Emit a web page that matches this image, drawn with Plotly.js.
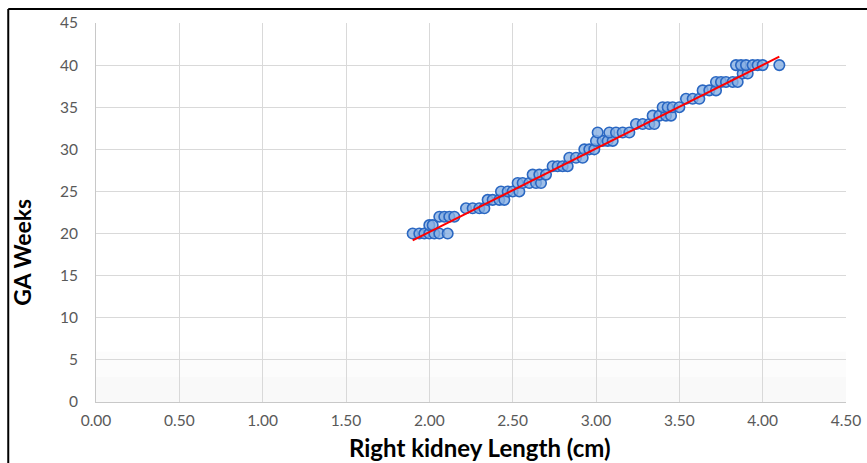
<!DOCTYPE html>
<html>
<head>
<meta charset="utf-8">
<script src="https://cdn.plot.ly/plotly-3.0.1.min.js"></script>
<style>html,body{margin:0;padding:0;background:#fff;}#chart{width:867px;height:463px;}</style>
</head>
<body>
<div id="chart"></div>
<script>
// Right kidney length (cm) grouped by gestational age week
const weeks = [20,21,22,23,24,25,26,27,28,29,30,31,32,33,34,35,36,37,38,39,40];
const lengthsByWeek = [
  [1.90, 1.94, 1.97, 2.00, 2.03, 2.06, 2.11],
  [2.00, 2.02],
  [2.06, 2.09, 2.12, 2.15],
  [2.22, 2.26, 2.30, 2.33],
  [2.35, 2.38, 2.42, 2.45],
  [2.43, 2.47, 2.50, 2.54],
  [2.53, 2.56, 2.60, 2.64, 2.67],
  [2.62, 2.66, 2.70],
  [2.74, 2.77, 2.80, 2.83],
  [2.84, 2.88, 2.92],
  [2.93, 2.96, 2.99],
  [3.00, 3.04, 3.07, 3.10],
  [3.01, 3.08, 3.12, 3.16, 3.20],
  [3.24, 3.28, 3.32, 3.35],
  [3.34, 3.38, 3.42, 3.45],
  [3.40, 3.43, 3.46, 3.50],
  [3.54, 3.58, 3.62],
  [3.64, 3.68, 3.72],
  [3.72, 3.75, 3.78, 3.82, 3.85],
  [3.88, 3.91],
  [3.84, 3.87, 3.90, 3.94, 3.97, 4.00, 4.10]
];
// Linear trendline endpoints
const trendX = [1.90, 4.10];
const trendY = [19.2, 41.0];
const xTickVals = [0, 0.5, 1, 1.5, 2, 2.5, 3, 3.5, 4, 4.5];
const xTickText = ["0.00","0.50","1.00","1.50","2.00","2.50","3.00","3.50","4.00","4.50"];
const yTickVals = [0,5,10,15,20,25,30,35,40,45];

const xs = [], ys = [];
weeks.forEach((w, i) => lengthsByWeek[i].forEach(v => { xs.push(v); ys.push(w); }));

const font = "Lato, 'Open Sans', sans-serif";
const data = [
  {
    x: xs, y: ys, type: 'scatter', mode: 'markers',
    marker: {size: 10.5, color: 'rgba(135,175,226,0.8)', line: {color: '#2a67c2', width: 1.6}},
    hoverinfo: 'x+y'
  },
  {
    x: trendX, y: trendY, type: 'scatter', mode: 'lines',
    line: {color: '#ff0000', width: 2}
  }
];

const layout = {
  width: 867, height: 463,
  margin: {l: 96, r: 21, t: 23, b: 61},
  paper_bgcolor: '#ffffff', plot_bgcolor: '#ffffff',
  showlegend: false,
  font: {family: font, color: '#595959', size: 15.5},
  xaxis: {
    range: [0, 4.5], tickvals: xTickVals, ticktext: xTickText,
    showgrid: true, gridcolor: '#d9d9d9', gridwidth: 1,
    zeroline: false, showline: true, linecolor: '#c8c8c8', linewidth: 1,
    ticks: '', ticklabelstandoff: 4,
    tickfont: {family: font, size: 15.5, color: '#595959'}
  },
  yaxis: {
    range: [0, 45], tickvals: yTickVals,
    showgrid: true, gridcolor: '#d9d9d9', gridwidth: 1,
    zeroline: false, showline: true, linecolor: '#c8c8c8', linewidth: 1,
    ticks: '', ticklabelstandoff: 14,
    tickfont: {family: font, size: 15.5, color: '#595959'}
  },
  shapes: [
    {type: 'rect', xref: 'paper', yref: 'y', x0: 0, x1: 1, y0: 0, y1: 6,
     fillcolor: 'rgba(0,0,0,0.012)', line: {width: 0}, layer: 'below'},
    {type: 'rect', xref: 'paper', yref: 'y', x0: 0, x1: 1, y0: 0, y1: 3,
     fillcolor: 'rgba(0,0,0,0.012)', line: {width: 0}, layer: 'below'},
    {type: 'line', xref: 'paper', yref: 'paper', x0: -0.117, x1: -0.117, y0: -0.2, y1: 1.037,
     line: {color: '#000', width: 2}},
    {type: 'line', xref: 'paper', yref: 'paper', x0: -0.117, x1: 1.1, y0: 1.037, y1: 1.037,
     line: {color: '#000', width: 2}}
  ],
  annotations: [
    {text: '<b>Right kidney Length (cm)</b>', xref: 'paper', yref: 'paper',
     x: 0.512, y: -0.119, showarrow: false, xanchor: 'center', yanchor: 'middle',
     font: {family: font, size: 24, color: '#000'}},
    {text: '<b>GA Weeks</b>', xref: 'paper', yref: 'paper', textangle: -90,
     x: -0.099, y: 0.396, showarrow: false, xanchor: 'center', yanchor: 'middle',
     font: {family: font, size: 23, color: '#000'}}
  ]
};

Plotly.newPlot('chart', data, layout, {displayModeBar: false, staticPlot: true});
</script>
</body>
</html>
